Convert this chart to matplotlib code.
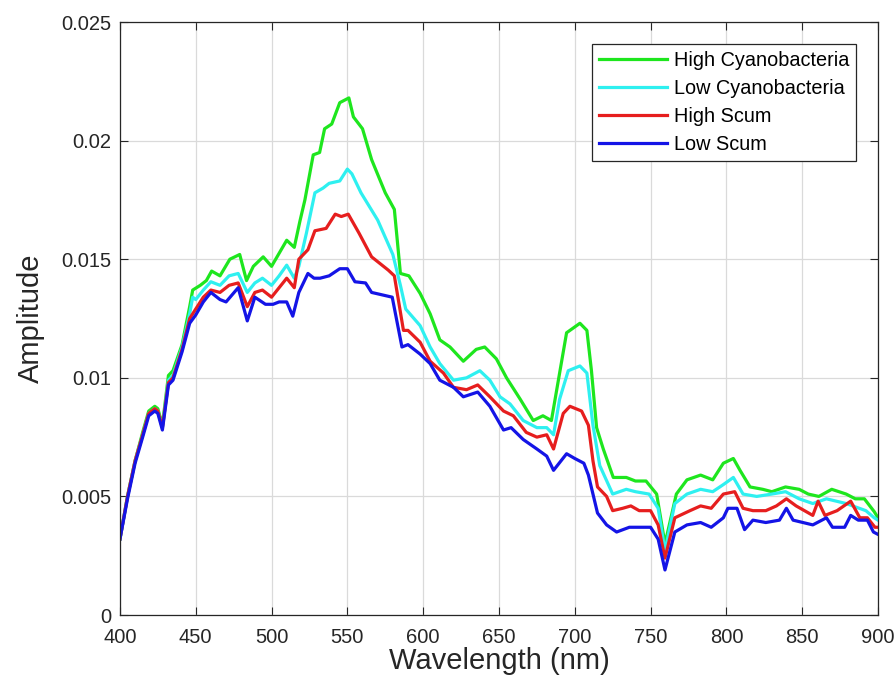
import matplotlib.pyplot as plt
from matplotlib.ticker import FixedLocator, FixedFormatter

plt.rcParams['font.family'] = ['Liberation Sans', 'DejaVu Sans']

# High Cyanobacteria
wl_hc = [400, 405, 410, 415, 419, 423, 425, 428, 432, 435, 441, 446, 448, 453, 457, 460.5, 466,
         472.5, 479, 483.5, 488, 494.5, 500, 510, 515, 518.7, 522, 527.5, 531.7, 535, 539.7, 545,
         551, 554, 560, 566, 575, 581, 585, 590.6, 598, 604.6, 611, 617.7, 626.5, 635, 640.6,
         648.3, 655, 664, 672.6, 679, 684.6, 690, 694.6, 703.4, 708, 711, 714.4, 718.8, 725.4,
         734, 740, 747, 754, 759.5, 767, 774, 783, 791, 798, 804.6, 809, 815.6, 824, 830, 839,
         848, 854, 861, 869.5, 879, 885, 891, 897.5, 900]
amp_hc = [.0032, .0050, .0065, .0077, .0086, .0088, .0087, .0080, .0101, .0103, .0114, .0130,
          .0137, .0139, .0141, .0145, .0143, .0150, .0152, .0141, .0147, .0151, .0147, .0158,
          .0155, .0166, .0175, .0194, .0195, .0205, .0207, .0216, .0218, .0210, .0205, .0192,
          .0178, .0171, .0144, .0143, .01356, .0127, .0116, .0113, .0107, .0112, .0113, .0108,
          .0100, .0091, .0082, .0084, .0082, .0102, .0119, .0123, .0120, .0103, .0079, .0070,
          .0058, .0058, .00565, .00565, .0051, .0030, .0051, .0057, .0059, .0057, .0064, .0066,
          .0061, .0054, .0053, .0052, .0054, .0053, .0051, .0050, .0053, .0051, .0049, .0049,
          .00436, .0041]

# Low Cyanobacteria
wl_lc = [400, 405, 410, 415, 419, 423, 425, 428, 432, 435, 441, 446, 448, 450, 455, 460, 466,
         472, 478, 484, 489, 494, 500, 505, 510, 515, 518, 523, 528.6, 534, 538, 545, 550, 553,
         559, 570, 580, 585, 588.5, 598, 604.6, 611, 620, 628.6, 637.4, 644, 650.7, 657.3, 666,
         675, 681.5, 686, 690, 695.7, 703.4, 708, 712, 716.5, 725, 734, 740, 749, 755, 759.5,
         766, 774, 783, 791, 798, 804.6, 811, 820, 830, 839, 848, 857, 866, 879, 892, 897.5, 900]
amp_lc = [.0032, .0050, .0065, .0076, .0085, .0087, .0086, .0079, .0099, .0101, .0113, .0127,
          .0134, .0133, .0137, .01405, .0139, .0143, .0144, .0136, .0140, .0142, .0139, .0143,
          .01475, .0142, .0147, .0161, .0178, .0180, .0182, .0183, .0188, .0186, .0178, .01665,
          .0152, .0139, .0129, .0122, .0113, .0106, .0099, .0100, .0103, .0099, .0092, .0089,
          .0082, .0079, .0079, .0076, .0091, .0103, .0105, .0102, .0080, .0063, .0051, .0053,
          .0052, .0051, .0045, .0027, .0047, .0051, .0053, .0052, .0055, .0058, .0051, .0050,
          .0051, .0052, .0049, .0047, .0049, .0047, .0044, .0041, .0040]

# High Scum
wl_hs = [400, 405, 410, 415, 419, 423, 425, 428, 432, 435, 441, 446, 450, 455, 460, 466, 472,
         478, 484, 489, 494, 500, 505, 510, 515, 518, 524, 528.6, 536, 542, 546, 550.6, 557.7,
         566, 577, 581, 587, 590, 598, 604.6, 613.4, 620, 628.6, 636, 644, 653, 659.5, 668, 675,
         681.5, 686, 692.4, 696.8, 704.5, 709, 712, 715, 721, 725, 731.6, 737, 742.5, 750, 755,
         759.5, 766, 776, 783, 790, 798, 805.5, 811, 817.5, 826, 833, 839.6, 846, 857, 860.5,
         865, 873, 882, 888, 893, 898, 900]
amp_hs = [.0032, .0050, .0065, .0076, .0085, .0087, .0086, .0079, .0098, .0100, .0112, .0125,
          .0129, .0134, .0137, .0136, .0139, .0140, .0130, .0136, .0137, .0134, .0138, .0142,
          .0138, .0150, .0154, .0162, .0163, .0169, .0168, .0169, .0161, .0151, .01454, .0143,
          .0120, .0120, .0115, .0107, .0102, .0096, .0095, .0097, .0092, .0086, .0084, .0077,
          .0075, .0076, .0070, .0085, .0088, .0086, .0080, .0065, .0054, .0050, .0044, .0045,
          .0046, .0044, .0044, .0038, .0024, .0041, .0044, .0046, .0045, .0051, .0052, .0045,
          .0044, .0044, .0046, .0049, .0046, .0042, .0048, .0042, .0044, .0048, .0041, .0041,
          .0037, .0037]

# Low Scum
wl_ls = [400, 405, 410, 415, 419, 423, 425, 428, 432, 435, 441, 446, 450, 455, 460, 466, 470,
         478, 484, 489, 496, 501, 505, 510, 514, 518, 524, 528, 532, 538, 545, 550, 555, 562,
         566, 579.6, 586, 590, 598, 604.6, 611, 620, 626.5, 636, 644, 653, 658, 666, 675, 681.5,
         686, 694.6, 700, 706, 709, 712, 715, 721, 727.6, 736, 742.5, 750, 755, 759.5, 766, 774,
         783, 790, 798, 801, 807, 812, 817.5, 826, 835, 839.6, 844, 857, 866, 870, 878, 882, 887,
         893, 897, 900]
amp_ls = [.0032, .0049, .0064, .0075, .0084, .0086, .0085, .0078, .0097, .0099, .0111, .0123,
          .01265, .0132, .0136, .0133, .0132, .0138, .0124, .0134, .0131, .0131, .0132, .0132,
          .0126, .0136, .0144, .0142, .0142, .0143, .0146, .0146, .01405, .0140, .0136, .0134,
          .0113, .0114, .0110, .0106, .0099, .0096, .0092, .0094, .0088, .0078, .0079, .0074,
          .0070, .0067, .0061, .0068, .0066, .0064, .0059, .0051, .0043, .0038, .0035, .0037,
          .0037, .0037, .0032, .0019, .0035, .0038, .0039, .0037, .0041, .0045, .0045, .0036,
          .0040, .0039, .0040, .0045, .0040, .0038, .0041, .0037, .0037, .0042, .0040, .0040,
          .0035, .0034]

x_ticks = [400, 450, 500, 550, 600, 650, 700, 750, 800, 850, 900]
y_ticks = [0, 0.005, 0.01, 0.015, 0.02, 0.025]
y_tick_labels = ['0', '0.005', '0.01', '0.015', '0.02', '0.025']

fig = plt.figure(figsize=(8.95, 6.97), dpi=100)
ax = fig.add_axes([0.134, 0.1176, 0.847, 0.8508])

txt = '#262626'
ax.plot(wl_hc, amp_hc, color='#1ee61e', lw=2.3, label='High Cyanobacteria')
ax.plot(wl_lc, amp_lc, color='#2ef0f0', lw=2.3, label='Low Cyanobacteria')
ax.plot(wl_hs, amp_hs, color='#e61e1e', lw=2.3, label='High Scum')
ax.plot(wl_ls, amp_ls, color='#1414e6', lw=2.3, label='Low Scum')

ax.set_xlim(400, 900)
ax.set_ylim(0, 0.025)
ax.xaxis.set_major_locator(FixedLocator(x_ticks))
ax.yaxis.set_major_locator(FixedLocator(y_ticks))
ax.yaxis.set_major_formatter(FixedFormatter(y_tick_labels))
ax.grid(True, color='#dadada', lw=0.9)
ax.set_axisbelow(True)
ax.tick_params(direction='in', length=6, width=0.8, top=True, right=True,
               labelsize=14.5, colors=txt)
ax.tick_params(axis='x', pad=9)
ax.tick_params(axis='y', pad=6)
for s in ax.spines.values():
    s.set_color(txt)
    s.set_linewidth(0.9)

ax.set_xlabel('Wavelength (nm)', fontsize=21, color=txt, labelpad=0)
ax.set_ylabel('Amplitude', fontsize=21, color=txt, labelpad=12)

leg = ax.legend(loc='upper right', fontsize=14.3, handlelength=3.4, handletextpad=0.35,
                labelspacing=0.46, borderpad=0.35, borderaxespad=1.1, fancybox=False,
                framealpha=1, edgecolor='#262626')
leg.get_frame().set_linewidth(0.9)

plt.savefig('out.png', dpi=100)
